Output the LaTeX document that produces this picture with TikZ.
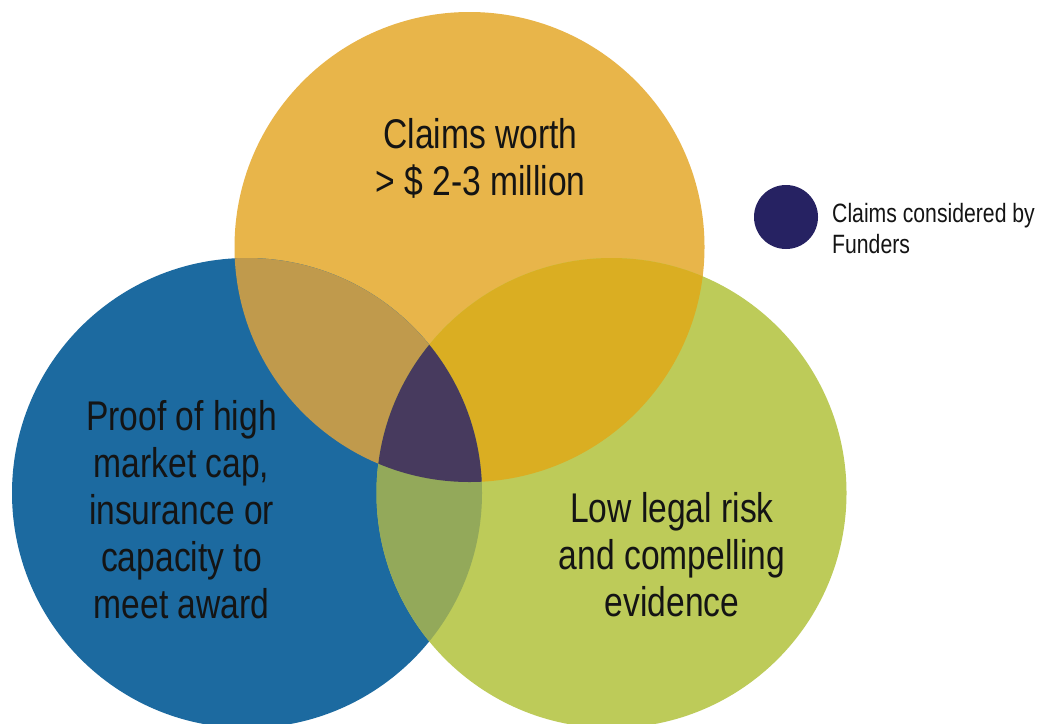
\documentclass[tikz,border=0pt]{standalone}
\usepackage{fontspec}
\newfontfamily\condfont[FakeStretch=0.81]{Liberation Sans}
\newfontfamily\legfont[FakeStretch=0.80]{Liberation Sans}
\definecolor{topc}{HTML}{E8B54A}
\definecolor{leftc}{HTML}{1C6AA0}
\definecolor{rightc}{HTML}{BDCB59}
\definecolor{tlc}{HTML}{C09A4C}
\definecolor{trc}{HTML}{DAAE22}
\definecolor{lrc}{HTML}{93A95A}
\definecolor{tlrc}{HTML}{473A5E}
\definecolor{legc}{HTML}{262262}
\definecolor{txtc}{HTML}{141414}
\tikzset{
  bigtext/.style={inner sep=0pt, align=center, text=txtc, font=\condfont\fontsize{41.5}{47}\selectfont},
  legtext/.style={inner sep=0pt, align=left, text=txtc, font=\legfont\fontsize{26.5}{31}\selectfont},
}
\begin{document}
\begin{tikzpicture}[x=1pt,y=-1pt]
\useasboundingbox (0,0) rectangle (1043,723);
\fill[white] (0,0) rectangle (1043,723);
\clip (0,0) rectangle (1043,723);
\coordinate (T) at (469.5,247);
\coordinate (L) at (247,493);
\coordinate (R) at (611.5,493);
\def\rad{235pt}
% base circles
\fill[topc] (T) circle (\rad);
\fill[leftc] (L) circle (\rad);
\fill[rightc] (R) circle (\rad);
% pairwise overlaps
\begin{scope}
  \clip (T) circle (\rad);
  \fill[tlc] (L) circle (\rad);
\end{scope}
\begin{scope}
  \clip (T) circle (\rad);
  \fill[trc] (R) circle (\rad);
\end{scope}
\begin{scope}
  \clip (L) circle (\rad);
  \fill[lrc] (R) circle (\rad);
\end{scope}
% triple overlap
\begin{scope}
  \clip (T) circle (\rad);
  \clip (L) circle (\rad);
  \fill[tlrc] (R) circle (\rad);
\end{scope}
% texts
\node[bigtext] (ttext) at (480.5,158) {Claims worth\\> \$ 2-3 million};
\node[bigtext] (ltext) at (181.5,510) {Proof of high\\market cap,\\insurance or\\capacity to\\meet award};
\node[bigtext] (rtext) at (672,555) {Low legal risk\\and compelling\\evidence};
% legend
\node[circle, fill=legc, minimum size=64pt, inner sep=0pt] (legdot) at (786,217) {};
\node[legtext, anchor=west] (legtxt) at (832,228.5) {Claims considered by\\Funders};
\end{tikzpicture}
\end{document}
